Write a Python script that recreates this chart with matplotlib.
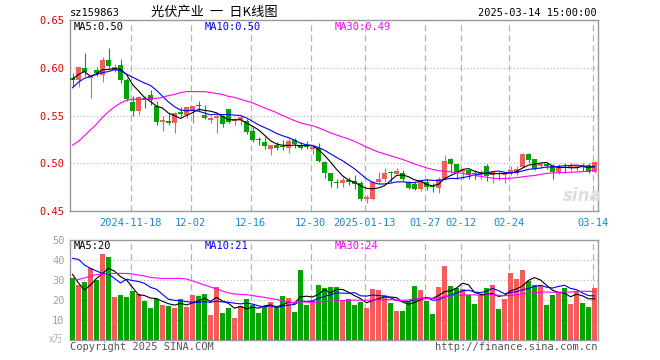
import numpy as np
import pandas as pd
import matplotlib
matplotlib.use('Agg')
import matplotlib.pyplot as plt

# K线数据 (2024-11-04 ~ 2025-03-14)
opens = [0.589, 0.5875, 0.600, 0.589, 0.598, 0.592, 0.608, 0.598, 0.603, 0.587,
         0.564, 0.555, 0.568, 0.571, 0.560, 0.543, 0.5445, 0.5425, 0.5535, 0.5505,
         0.5555, 0.561, 0.551, 0.545, 0.547, 0.549, 0.557, 0.544, 0.545, 0.544,
         0.534, 0.525, 0.522, 0.515, 0.519, 0.518, 0.516, 0.524, 0.519, 0.519,
         0.5145, 0.516, 0.5015, 0.490, 0.480, 0.479, 0.482, 0.4815, 0.479, 0.463,
         0.463, 0.4805, 0.483, 0.4905, 0.4885, 0.490, 0.480, 0.478, 0.4735, 0.4805,
         0.476, 0.4745, 0.483, 0.5045, 0.499, 0.491, 0.493, 0.490, 0.4885, 0.4975,
         0.4875, 0.489, 0.4875, 0.4895, 0.4895, 0.4965, 0.5095, 0.504, 0.497, 0.499,
         0.497, 0.491, 0.496, 0.4955, 0.4955, 0.498, 0.498, 0.491]
highs = [0.595, 0.601, 0.615, 0.591, 0.601, 0.611, 0.621, 0.604, 0.609, 0.589,
         0.570, 0.570, 0.570, 0.577, 0.565, 0.549, 0.553, 0.554, 0.559, 0.559,
         0.560, 0.565, 0.561, 0.549, 0.552, 0.551, 0.557, 0.547, 0.549, 0.546,
         0.538, 0.528, 0.527, 0.519, 0.522, 0.524, 0.526, 0.526, 0.522, 0.523,
         0.517, 0.521, 0.502, 0.490, 0.484, 0.486, 0.486, 0.488, 0.481, 0.4665,
         0.4815, 0.4905, 0.4955, 0.492, 0.4955, 0.493, 0.4815, 0.4815, 0.484, 0.483,
         0.479, 0.486, 0.5085, 0.506, 0.499, 0.494, 0.493, 0.4925, 0.493, 0.499,
         0.492, 0.491, 0.490, 0.497, 0.497, 0.511, 0.511, 0.504, 0.500, 0.500,
         0.499, 0.4995, 0.500, 0.500, 0.4975, 0.500, 0.500, 0.502]
lows = [0.581, 0.580, 0.591, 0.568, 0.591, 0.585, 0.600, 0.596, 0.584, 0.565,
        0.550, 0.551, 0.558, 0.561, 0.540, 0.534, 0.540, 0.532, 0.549, 0.547,
        0.542, 0.555, 0.546, 0.542, 0.532, 0.538, 0.542, 0.540, 0.540, 0.531,
        0.522, 0.519, 0.515, 0.509, 0.514, 0.514, 0.511, 0.516, 0.515, 0.515,
        0.510, 0.501, 0.485, 0.475, 0.474, 0.475, 0.477, 0.4735, 0.4605, 0.4585,
        0.462, 0.479, 0.4805, 0.480, 0.4885, 0.4815, 0.4735, 0.472, 0.471, 0.472,
        0.470, 0.469, 0.482, 0.490, 0.484, 0.484, 0.484, 0.484, 0.484, 0.4815,
        0.479, 0.4825, 0.4795, 0.4875, 0.4875, 0.496, 0.500, 0.493, 0.4955, 0.4935,
        0.484, 0.489, 0.490, 0.492, 0.492, 0.492, 0.490, 0.490]
closes = [0.587, 0.6005, 0.596, 0.591, 0.594, 0.608, 0.602, 0.601, 0.587, 0.567,
          0.555, 0.569, 0.566, 0.566, 0.543, 0.545, 0.5425, 0.5525, 0.5515, 0.5585,
          0.560, 0.560, 0.547, 0.547, 0.550, 0.541, 0.543, 0.546, 0.548, 0.533,
          0.524, 0.524, 0.518, 0.519, 0.516, 0.517, 0.523, 0.520, 0.516, 0.517,
          0.5165, 0.502, 0.490, 0.481, 0.479, 0.4825, 0.480, 0.478, 0.463, 0.465,
          0.4805, 0.484, 0.490, 0.4895, 0.492, 0.4835, 0.4745, 0.4735, 0.4825, 0.4755,
          0.4755, 0.483, 0.5025, 0.499, 0.490, 0.493, 0.4875, 0.4885, 0.491, 0.487,
          0.491, 0.4885, 0.4895, 0.493, 0.4945, 0.5095, 0.5035, 0.4945, 0.499, 0.4975,
          0.491, 0.4955, 0.4955, 0.497, 0.4975, 0.4975, 0.491, 0.5015]
# 成交量 (万)
volumes = [31.2, 27.7, 29, 36, 30, 43, 41.5, 21.5, 22.5, 21.5,
           24.5, 23, 19.7, 16, 20.5, 17.5, 17, 16.2, 20.5, 16.5,
           22.5, 22, 23, 12.5, 26.5, 13.5, 16, 11, 17, 20.5,
           17.5, 13.5, 17, 19, 16, 22, 21, 14, 35, 17.5,
           20, 27.5, 26, 26.5, 26.5, 20, 20.5, 17.5, 19, 16,
           25.5, 25, 22.5, 18.5, 14.5, 14.5, 19.5, 27, 25, 19.5,
           13, 26.5, 37, 27, 26, 25.5, 22.5, 18, 22, 26,
           27.5, 15.5, 20.5, 33.5, 30.5, 35, 29.5, 27.5, 27.5, 17.5,
           22.5, 24, 26, 18, 24, 18.5, 16.5, 26]

# 均线开头部分(窗口之前的数据看不到, 从图上读)
ma5_head = [0.588, 0.593, 0.596, 0.591]
ma10_head = [0.579, 0.585, 0.589, 0.591, 0.593, 0.595, 0.596, 0.598, 0.597]
ma30_head = [0.519, 0.523, 0.529, 0.535, 0.541, 0.548, 0.554, 0.559, 0.563, 0.566,
             0.567, 0.567, 0.567, 0.568, 0.568, 0.569, 0.571, 0.572, 0.574, 0.575,
             0.575, 0.575, 0.575, 0.574, 0.573, 0.572, 0.570, 0.569, 0.567]
vma5_head = [32.8, 28.5, 25.0, 27.5]
vma10_head = [40.8, 40.3, 37.5, 35.8, 34.5, 33.3, 33.0, 30.8, 28.5]
vma30_head = [30.0, 30.3, 31.0, 32.0, 32.7, 33.0, 33.2, 33.3, 33.3, 33.3,
              33.0, 32.5, 32.0, 31.3, 31.0, 30.8, 30.8, 30.8, 30.8, 30.5,
              29.5, 28.5, 27.5, 26.5, 25.5, 24.5, 23.5, 23.0, 22.8]

tick_pos = [10, 20, 30, 40, 49, 59, 65, 73, 87]
tick_labels = ['2024-11-18', '12-02', '12-16', '12-30', '2025-01-13',
               '01-27', '02-12', '02-24', '03-14']


def moving_avg(vals, n, head):
    m = pd.Series(vals).rolling(n).mean().to_numpy()
    m[:n - 1] = head
    return m


RED = '#f65a5a'
GREEN = '#00a500'
GRID = '#b4b4b4'
FRAME = '#999999'
MONO = 'DejaVu Sans Mono'

W, H = 660, 360
fig = plt.figure(figsize=(W / 100, H / 100), dpi=100)
ax = fig.add_axes([70 / W, 1 - 211 / H, 528 / W, 191 / H])
axv = fig.add_axes([70 / W, 1 - 340 / H, 528 / W, 100 / H])

n = len(closes)
x = np.arange(n)
o = np.array(opens)
c = np.array(closes)
up = c >= o
colors = np.where(up, RED, GREEN)
xmin = -5 / 12

# 蜡烛
ax.vlines(x, lows, highs, colors=colors, lw=0.8, zorder=3)
body = np.maximum(np.abs(c - o), 0.0009)
ax.bar(x, body, bottom=np.minimum(o, c), width=0.83, color=colors, lw=0, zorder=4)

ax.plot(x, moving_avg(closes, 5, ma5_head), color='black', lw=0.8, zorder=5)
ax.plot(x, moving_avg(closes, 10, ma10_head), color='#0000ff', lw=0.8, zorder=5)
ax.plot(x, moving_avg(closes, 30, ma30_head), color='#ff00ff', lw=0.8, zorder=5)

ax.set_xlim(xmin, n + xmin)
ax.set_ylim(0.45, 0.65)
ax.set_yticks([0.45, 0.50, 0.55, 0.60, 0.65])
ax.set_yticklabels(['0.45', '0.50', '0.55', '0.60', '0.65'])
for yv in [0.50, 0.55, 0.60]:
    ax.axhline(yv, color=GRID, lw=0.8, ls=(0, (1, 2)), zorder=1)
ax.set_xticks([p - 1 / 3 for p in tick_pos])
ax.set_xticklabels(tick_labels)

# 成交量
axv.bar(x, volumes, width=0.83, color=colors, lw=0, zorder=3)
axv.plot(x, moving_avg(volumes, 5, vma5_head), color='black', lw=0.8, zorder=5)
axv.plot(x, moving_avg(volumes, 10, vma10_head), color='#0000ff', lw=0.8, zorder=5)
axv.plot(x, moving_avg(volumes, 30, vma30_head), color='#ff00ff', lw=0.8, zorder=5)
axv.set_xlim(xmin, n + xmin)
axv.set_ylim(0, 50)
axv.set_yticks([10, 20, 30, 40, 50])
for yv in [10, 20, 30, 40]:
    axv.axhline(yv, color=GRID, lw=0.8, ls=(0, (1, 2)), zorder=1)
axv.set_xticks([])

for a in (ax, axv):
    for p in tick_pos:
        a.axvline(p - 1 / 3, color=GRID, lw=0.9, ls=(0, (5, 3)), zorder=1)
    for s in a.spines.values():
        s.set_color(FRAME)
        s.set_linewidth(1.0)
    a.tick_params(length=0, pad=4)

for lab in ax.get_yticklabels():
    lab.set_fontfamily(MONO)
    lab.set_fontsize(7.5)
    lab.set_color('#e00000')
for lab in ax.get_xticklabels():
    lab.set_fontfamily(MONO)
    lab.set_fontsize(7.5)
    lab.set_color('#1688d0')
ax.tick_params(axis='x', pad=5)
for lab in axv.get_yticklabels():
    lab.set_fontfamily(MONO)
    lab.set_fontsize(7.5)
    lab.set_color('#a0a0a0')


def ftext(px, py, s, **kw):
    kw.setdefault('family', MONO)
    kw.setdefault('fontsize', 7.5)
    kw.setdefault('va', 'center')
    fig.text(px / W, 1 - py / H, s, **kw)


ftext(70, 13, 'sz159863', color='black')
ftext(214, 12, '光伏产业  一  日K线图', ha='center', fontsize=9.5,
      family=['Noto Sans CJK SC', 'DejaVu Sans'], color='black')
ftext(597, 13, '2025-03-14 15:00:00', ha='right', color='black')

ftext(74, 27, 'MA5:0.50', color='black')
ftext(205, 27, 'MA10:0.50', color='#0000ff')
ftext(335, 27, 'MA30:0.49', color='#ff00ff')
ftext(74, 246, 'MA5:20', color='black')
ftext(205, 246, 'MA10:21', color='#0000ff')
ftext(335, 246, 'MA30:24', color='#ff00ff')

ftext(63, 339, 'x万', ha='right', color='#b0b0b0', fontsize=7,
      family=['Noto Sans CJK SC', 'DejaVu Sans'])
ftext(70, 347, 'Copyright 2025 SINA.COM', color='#555555')
ftext(597, 347, 'http://finance.sina.com.cn', ha='right', color='#555555')
ftext(582, 196, 'sina', ha='center', color='#dddddd', fontsize=12,
      family='DejaVu Sans', style='italic', fontweight='bold')

fig.savefig('out.png', dpi=100)
